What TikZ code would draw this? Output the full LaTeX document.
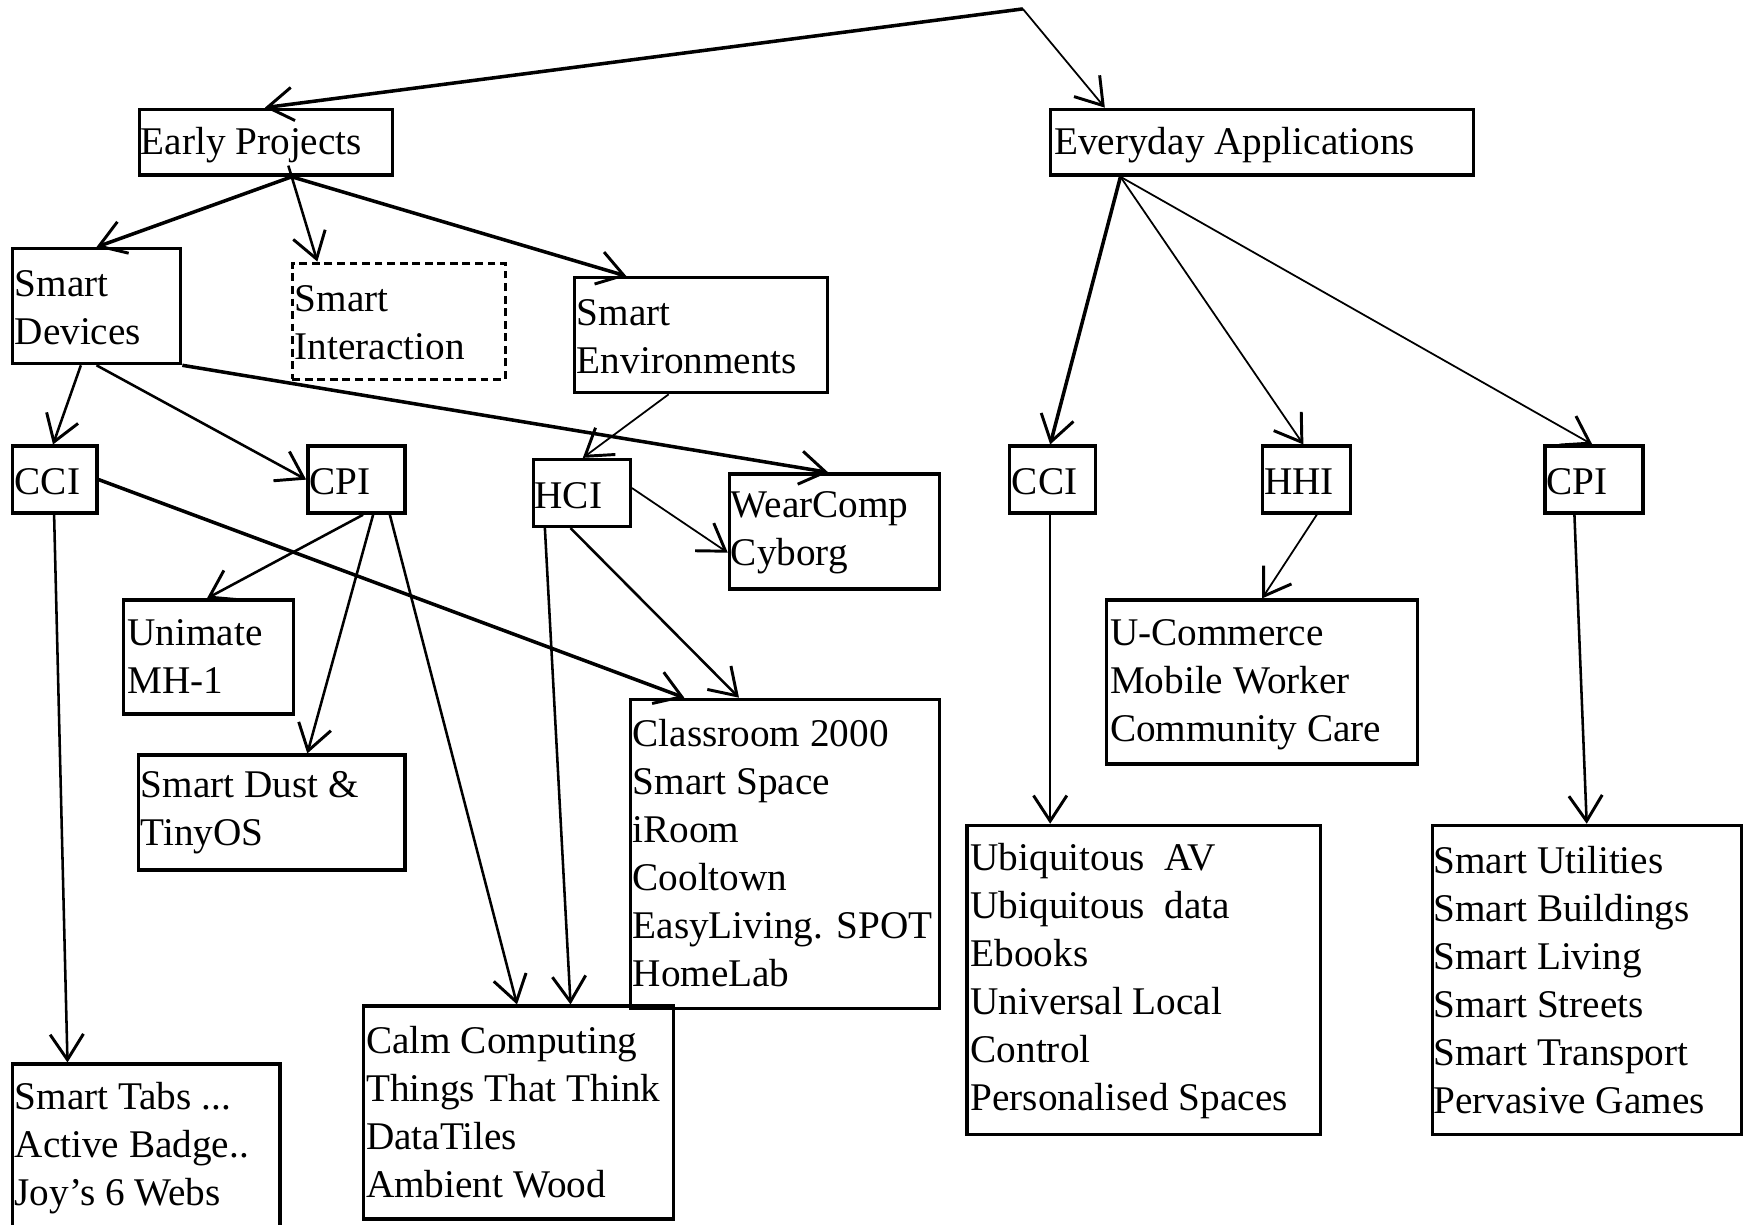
\documentclass[tikz,border=0pt]{standalone}
\usepackage{fontspec}
\setmainfont{Liberation Serif}
\usetikzlibrary{arrows.meta,calc,fit}
\begin{document}
\begin{tikzpicture}[x=0.01cm,y=-0.01cm,
  box/.style={draw, line width=0.85pt, inner sep=0pt, fit={#1}},
  dbox/.style={box={#1}, dash pattern=on 2pt off 1.2pt},
  txt/.style={anchor=west, inner sep=0pt, align=left, font=\fontsize{10pt}{12.23pt}\selectfont},
  tip/.style={-{Straight Barb[length=6.5pt,width=8.5pt,line width=0.75pt]}},
  conA/.style={tip, line width=0.9pt},
  conB/.style={tip, line width=0.65pt},
  conC/.style={tip, line width=0.45pt}]
\useasboundingbox (0,0) rectangle (1568,1098);
\fill[white] (0,0) rectangle (1568,1098);

% boxes
\node[box={(125,98)(352,157)}] (ep) {};
\node[box={(942,98)(1321,157)}] (ea) {};
\node[box={(11,223)(162,326)}] (sd) {};
\node[dbox={(262,236)(453,340)}] (si) {};
\node[box={(515,249)(742,352)}] (se) {};
\node[box={(11,400)(87,460)}] (ccl) {};
\node[box={(276,400)(363,460)}] (cpl) {};
\node[box={(478,412)(565,472)}] (hci) {};
\node[box={(654,425)(842,528)}] (wc) {};
\node[box={(111,538)(263,640)}] (um) {};
\node[box={(124,677)(363,780)}] (sdu) {};
\node[box={(565,627)(842,904)}] (cr) {};
\node[box={(326,902)(604,1093)}] (cc) {};
\node[box={(11,954)(251,1100)}] (st) {};
\node[box={(905,400)(982,460)}] (ccr) {};
\node[box={(1132,400)(1211,460)}] (hhi) {};
\node[box={(1385,400)(1473,460)}] (cpr) {};
\node[box={(992,538)(1271,685)}] (uc) {};
\node[box={(867,740)(1184,1017)}] (ua) {};
\node[box={(1284,740)(1561,1017)}] (su) {};

% texts
\node[txt] (ep-t) at ($(ep.west)+(2,3)$) {Early Projects};
\node[txt] (ea-t) at ($(ea.west)+(4,3)$) {Everyday Applications};
\node[txt] (sd-t) at ($(sd.west)+(3,1)$) {Smart\\Devices};
\node[txt] (si-t) at ($(si.west)+(3,1)$) {Smart\\Interaction};
\node[txt] (se-t) at ($(se.west)+(3,1)$) {Smart\\Environments};
\node[txt] (ccl-t) at ($(ccl.west)+(3,2)$) {CCI};
\node[txt] (cpl-t) at ($(cpl.west)+(2,2)$) {CPI};
\node[txt] (hci-t) at ($(hci.west)+(2,2)$) {HCI};
\node[txt] (wc-t) at ($(wc.west)+(2,1)$) {WearComp\\Cyborg};
\node[txt] (um-t) at ($(um.west)+(4,0)$) {Unimate\\MH-1};
\node[txt] (sdu-t) at ($(sdu.west)+(3,0)$) {Smart Dust \&\\TinyOS};
\node[txt] (cr-t) at ($(cr.west)+(3,-1)$) {Classroom 2000\\Smart Space\\iRoom\\Cooltown\\EasyLiving. SPOT\\HomeLab};
\node[txt] (cc-t) at ($(cc.west)+(3,0)$) {Calm Computing\\Things That Think\\DataTiles\\Ambient Wood};
\node[txt] (st-t) at ($(st.west)+(3,2)$) {Smart Tabs ...\\Active Badge..\\Joy’s 6 Webs};
\node[txt] (ccr-t) at ($(ccr.west)+(3,2)$) {CCI};
\node[txt] (hhi-t) at ($(hhi.west)+(2,2)$) {HHI};
\node[txt] (cpr-t) at ($(cpr.west)+(2,2)$) {CPI};
\node[txt] (uc-t) at ($(uc.west)+(4,2)$) {U-Commerce\\Mobile Worker\\Community Care};
\node[txt] (ua-t) at ($(ua.west)+(4,1)$) {Ubiquitous\ \ AV\\Ubiquitous\ \ data\\Ebooks\\Universal Local\\Control\\Personalised Spaces};
\node[txt] (su-t) at ($(su.west)+(2,0)$) {Smart Utilities\\Smart Buildings\\Smart Living\\Smart Streets\\Smart Transport\\Pervasive Games};

% connectors
\coordinate (apex) at (917,8);
\coordinate (epo) at ($(ep.south west)+(138,0)$);
\coordinate (eao) at ($(ea.south west)+(64,0)$);
\draw[conA] (apex) -- ($(ep.north west)+(114,0)$);
\draw[conC] (apex) -- ($(ea.north west)+(50,0)$);
\draw[conA] (epo) -- ($(sd.north west)+(77,0)$);
\draw[conB] ($(ep.south west)+(135,-10)$) -- ($(si.north west)+(24,0)$);
\draw[conA] (epo) -- ($(se.north west)+(48,0)$);
\draw[conB] ($(sd.south west)+(63,0)$) -- ($(ccl.north west)+(38,0)$);
\draw[conB] ($(sd.south west)+(77,0)$) -- (cpl.west);
\draw[conA] (sd.south east) -- ($(wc.north west)+(90,0)$);
\draw[conC] ($(se.south west)+(86,0)$) -- ($(hci.north west)+(46,0)$);
\draw[conC] ($(hci.north east)+(0,27)$) -- ($(wc.north west)+(0,72)$);
\draw[conB] ($(hci.south west)+(35,0)$) -- ($(cr.north west)+(99,0)$);
\draw[conB] ($(hci.south west)+(12,0)$) -- ($(cc.north west)+(187,0)$);
\draw[conB] ($(ccl.south west)+(39,0)$) -- ($(st.north west)+(51,0)$);
\draw[conA] (ccl.east) -- ($(cr.north west)+(50,0)$);
\draw[conB] ($(cpl.south west)+(51,0)$) -- ($(um.north west)+(76,0)$);
\draw[conB] ($(cpl.south west)+(60,0)$) -- ($(sdu.north west)+(153,0)$);
\draw[conB] ($(cpl.south west)+(75,0)$) -- ($(cc.north west)+(139,0)$);
\draw[conA] (eao) -- ($(ccr.north west)+(38,0)$);
\draw[conC] (eao) -- ($(hhi.north west)+(38,0)$);
\draw[conC] (eao) -- ($(cpr.north west)+(44,0)$);
\draw[conB] ($(ccr.south west)+(38,0)$) -- ($(ua.north west)+(76,0)$);
\draw[conC] ($(hhi.south west)+(50,0)$) -- ($(uc.north west)+(141,0)$);
\draw[conB] ($(cpr.south west)+(28,0)$) -- ($(su.north west)+(140,0)$);
\end{tikzpicture}
\end{document}
